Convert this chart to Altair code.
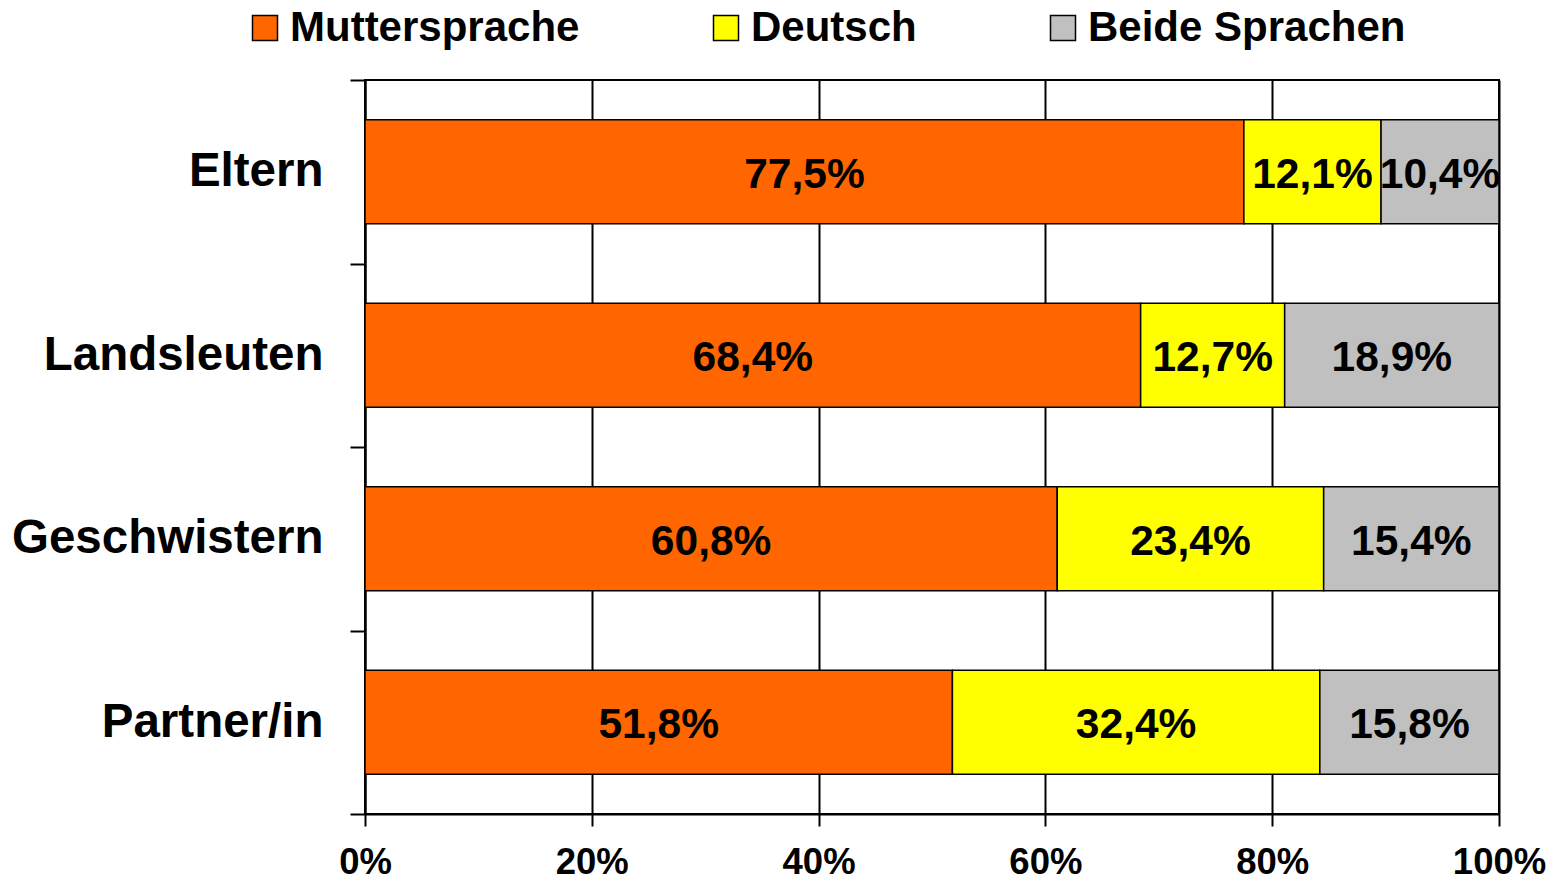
import altair as alt
import pandas as pd

categories = ["Eltern", "Landsleuten", "Geschwistern", "Partner/in"]
series = ["Muttersprache", "Deutsch", "Beide Sprachen"]
muttersprache = [77.5, 68.4, 60.8, 51.8]
deutsch = [12.1, 12.7, 23.4, 32.4]
beide = [10.4, 18.9, 15.4, 15.8]
colors = ["#FF6600", "#FFFF00", "#C0C0C0"]
x_ticks = [0, 20, 40, 60, 80, 100]

rows = []
for i, cat in enumerate(categories):
    vals_row = [muttersprache[i], deutsch[i], beide[i]]
    total = sum(vals_row)
    start = 0.0
    for j, (s, v) in enumerate(zip(series, vals_row)):
        share = v / total * 100
        rows.append({
            "Kategorie": cat,
            "Sprache": s,
            "order": j,
            "start": start,
            "end": start + share,
            "mid": start + share / 2,
            "label": f"{v:.1f}".replace(".", ",") + "%",
        })
        start += share
df = pd.DataFrame(rows)

FONT = "Arial, Liberation Sans, sans-serif"

y_enc = alt.Y(
    "Kategorie:N",
    sort=categories,
    title=None,
    scale=alt.Scale(paddingInner=0, paddingOuter=0),
    axis=alt.Axis(
        tickBand="extent",
        tickSize=15,
        tickWidth=2,
        tickColor="black",
        domainColor="black",
        domainWidth=2,
        labelFont=FONT,
        labelFontSize=47.5,
        labelFontWeight="bold",
        labelColor="black",
        labelPadding=27,
        labelLimit=500,
    ),
)

bars = alt.Chart(df).mark_bar(size=104, stroke="black", strokeWidth=1.5).encode(
    x=alt.X(
        "start:Q",
        scale=alt.Scale(domain=[0, 100], nice=False),
        title=None,
        axis=alt.Axis(
            values=x_ticks,
            labelExpr="datum.value + '%'",
            grid=True,
            gridColor="black",
            gridWidth=2,
            gridOpacity=1,
            tickSize=12,
            tickWidth=2,
            tickColor="black",
            domainColor="black",
            domainWidth=2,
            labelFont=FONT,
            labelFontSize=36.5,
            labelFontWeight="bold",
            labelColor="black",
            labelPadding=18,
            labelFlush=False,
            labelOverlap=False,
        ),
    ),
    x2="end:Q",
    y=y_enc,
    color=alt.Color(
        "Sprache:N",
        scale=alt.Scale(domain=series, range=colors),
        sort=series,
        legend=alt.Legend(
            title=None,
            orient="none",
            direction="horizontal",
            legendX=-121,
            legendY=-73,
            symbolType="square",
            symbolSize=625,
            symbolStrokeColor="black",
            symbolStrokeWidth=1.5,
            symbolOpacity=1,
            labelFont=FONT,
            labelFontSize=42,
            labelFontWeight="bold",
            labelColor="black",
            labelOffset=4,
            columnPadding=125,
            labelLimit=600,
        ),
    ),
    order=alt.Order("order:Q"),
)

texts = alt.Chart(df).mark_text(
    font=FONT, fontSize=42.5, fontWeight="bold", color="black", baseline="middle", dy=3
).encode(
    x=alt.X("mid:Q"),
    y=alt.Y("Kategorie:N", sort=categories),
    text="label:N",
)

chart = alt.layer(bars, texts).properties(
    width=1134,
    height=734,
    padding={"left": 357, "top": 72, "right": 52, "bottom": 64},
    autosize=alt.AutoSizeParams(type="none"),
    background="white",
).configure_view(stroke="black", strokeWidth=2)

chart.save("out.html", embed_options={"renderer": "svg", "actions": False})
